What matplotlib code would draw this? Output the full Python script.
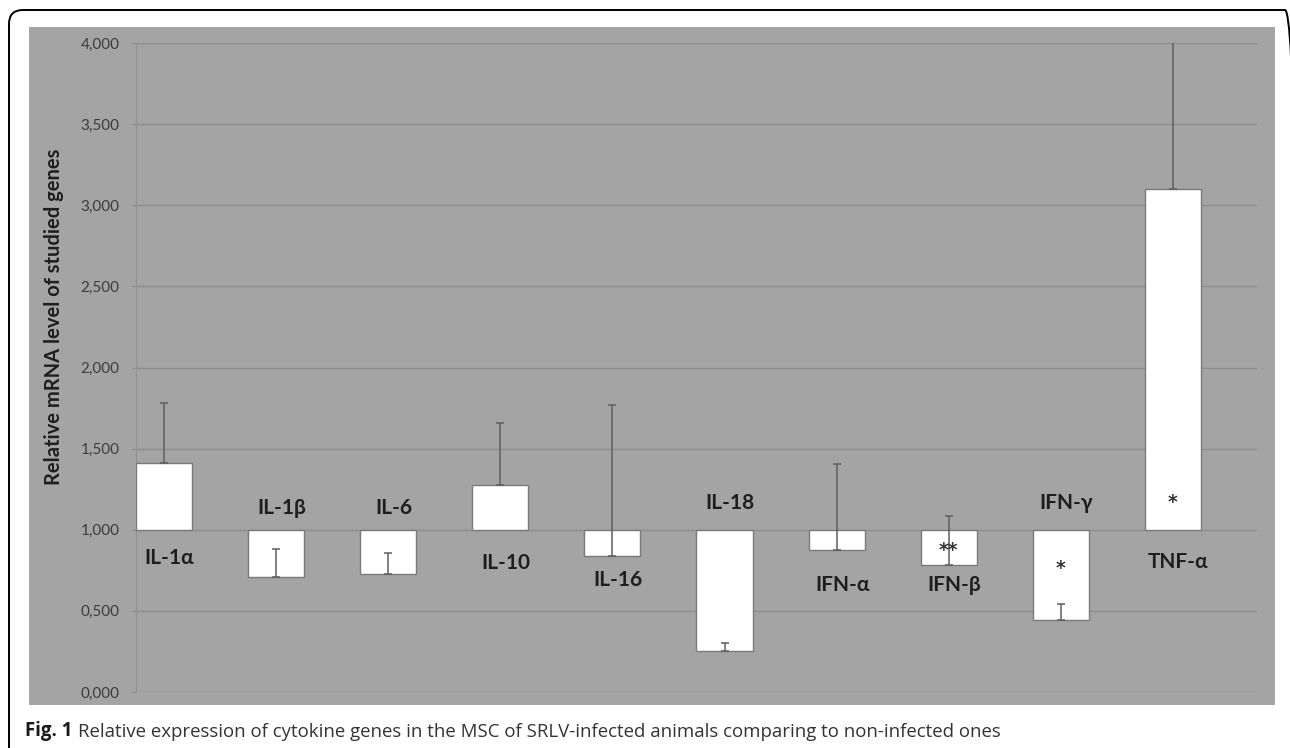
import numpy as np
import matplotlib
matplotlib.use("Agg")
import matplotlib.pyplot as plt
from matplotlib.patches import Rectangle, FancyBboxPatch
from matplotlib.transforms import IdentityTransform

# relative mRNA level (infected / non-infected), upper SD
genes = ["IL-1α", "IL-1β", "IL-6", "IL-10", "IL-16", "IL-18",
         "IFN-α", "IFN-β", "IFN-γ", "TNF-α"]
expr = [1.41, 0.71, 0.725, 1.275, 0.838, 0.253, 0.875, 0.783, 0.444, 3.10]
sd = [0.37, 0.17, 0.132, 0.383, 0.931, 0.049, 0.53, 0.302, 0.098, 0.92]
signif = ["", "", "", "", "", "", "", "**", "*", "*"]
yticks = [0.0, 0.5, 1.0, 1.5, 2.0, 2.5, 3.0, 3.5, 4.0]

# where each gene label sits (y in data units) and the star height
label_y = [0.826, 1.134, 1.134, 0.795, 0.690, 1.165, 0.659, 0.659, 1.165, 0.801]
star_y = [0, 0, 0, 0, 0, 0, 0, 0.87, 0.76, 1.165]

GRAY = "#a4a4a4"
FONT = ["Lato", "Noto Sans", "DejaVu Sans"]


def main():
    W, H = 1290, 748
    fig = plt.figure(figsize=(W / 100, H / 100), dpi=100)
    fig.patch.set_facecolor("white")

    # journal frame and grey chart area (behind the axes)
    fig.patches.append(FancyBboxPatch((9, -30), 1290, H - 10 + 30,
                                      boxstyle="round,pad=0,rounding_size=14",
                                      transform=IdentityTransform(), figure=fig,
                                      facecolor="none", edgecolor="black", lw=1.4,
                                      zorder=-2))
    fig.patches.append(Rectangle((29, 43), 1246, 678, transform=IdentityTransform(),
                                 figure=fig, facecolor=GRAY, edgecolor="none",
                                 zorder=-1))

    ax = fig.add_axes([136 / W, 56 / H, 1121 / W, 649 / H])
    ax.set_facecolor("none")

    x = np.arange(len(genes))
    bx = x - 0.25
    vals = np.array(expr)
    ax.bar(bx, vals - 1, bottom=1, width=0.5, color="white",
           edgecolor="#7a7a7a", linewidth=1.0, zorder=3)
    ax.errorbar(bx, vals, yerr=[np.zeros(len(sd)), sd], fmt="none",
                ecolor="#5e5e5e", elinewidth=1.1, capsize=3, capthick=1.1,
                zorder=4, clip_on=True)

    for i, name in enumerate(genes):
        ax.text(x[i] - 0.2, label_y[i], name, ha="center", va="center",
                fontsize=15, fontweight="bold", color="#1e1e1e", family=FONT, zorder=5)
        if signif[i]:
            ax.text(bx[i], star_y[i], signif[i], ha="center", va="center",
                    fontsize=13.5, fontweight="bold", color="#333333",
                    family="DejaVu Sans", zorder=5)

    ax.set_xlim(-0.5, 9.5)
    ax.set_ylim(0, 4)
    ax.set_xticks([])
    ax.set_yticks(yticks)
    ax.set_yticklabels([f"{v:.3f}".replace(".", ",") for v in yticks],
                       family=FONT, fontsize=11, color="#3c3c3c")
    ax.tick_params(axis="y", length=3, color="#8a8a8a", pad=9)
    ax.grid(axis="y", color="#8d8d8d", linewidth=1.0, zorder=0)
    for s in ["top", "right", "bottom"]:
        ax.spines[s].set_visible(False)
    ax.spines["left"].set_color("#939393")
    ax.spines["left"].set_linewidth(0.9)

    fig.text(54 / W, 1 - 317 / H, "Relative mRNA level of studied genes",
             rotation=90, ha="center", va="center", fontsize=14.5,
             fontweight="bold", color="#1e1e1e", family=FONT)

    cap = fig.text(25 / W, 1 - 731 / H, "Fig. 1", ha="left", va="center",
                   fontsize=13.4, fontweight="bold", family="Open Sans", color="#1a1a1a")
    ax.annotate("Relative expression of cytokine genes in the MSC of SRLV-infected "
                "animals comparing to non-infected ones",
                xy=(1, 0), xycoords=cap, xytext=(4, 0), textcoords="offset points",
                ha="left", va="bottom", fontsize=13.4, family="Open Sans",
                color="#333333", annotation_clip=False)

    fig.savefig("out.png", dpi=100, facecolor="white")
    plt.close(fig)


if __name__ == "__main__":
    main()
